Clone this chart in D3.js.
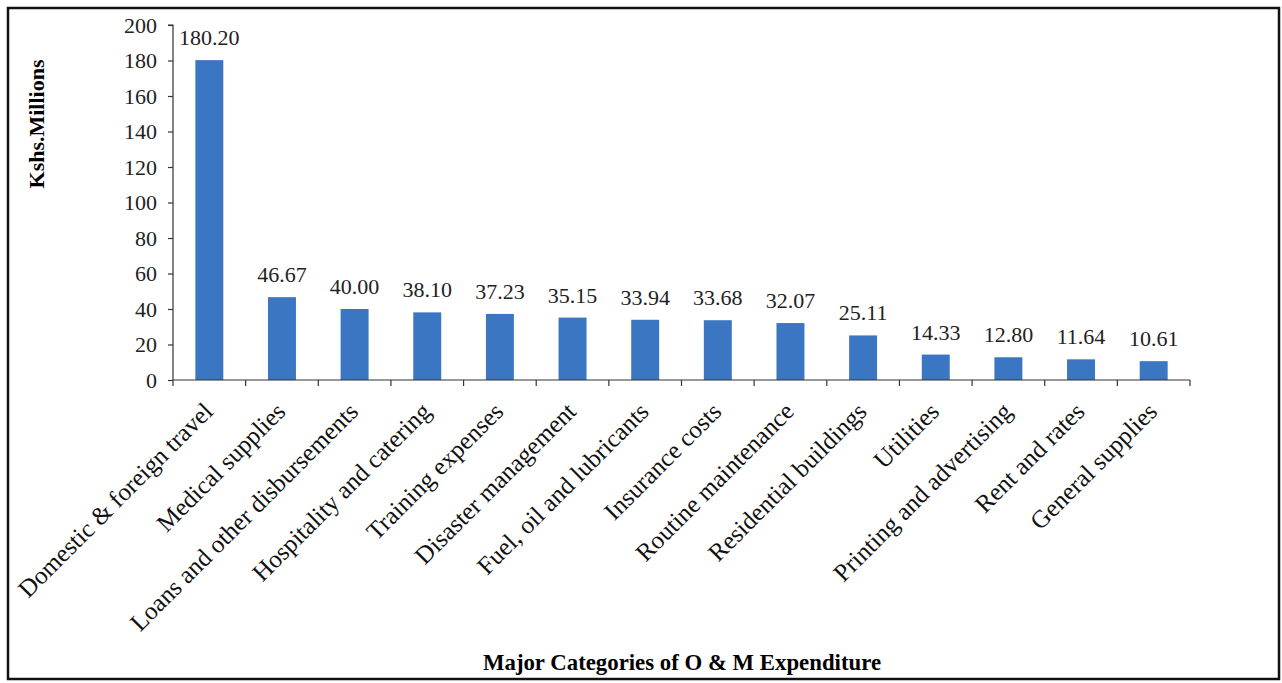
<!DOCTYPE html>
<html><head><meta charset="utf-8">
<script src="https://cdn.jsdelivr.net/npm/d3@7"></script>
<style>body{margin:0;background:#fff}</style>
</head><body><svg id="c" width="1282" height="683"></svg>
<script>
const categories = ["Domestic & foreign travel","Medical supplies","Loans and other disbursements","Hospitality and catering","Training expenses","Disaster management","Fuel, oil and lubricants","Insurance costs","Routine maintenance","Residential buildings","Utilities","Printing and advertising","Rent and rates","General supplies"];
const values = [180.20,46.67,40.00,38.10,37.23,35.15,33.94,33.68,32.07,25.11,14.33,12.80,11.64,10.61];
const yTicks = [0,20,40,60,80,100,120,140,160,180,200];
const yTitle = "Kshs.Millions";
const xTitle = "Major Categories of O & M Expenditure";

const svg = d3.select("#c");
svg.append("rect").attr("x",8).attr("y",8).attr("width",1271).attr("height",671)
  .attr("fill","none").attr("stroke","#111").attr("stroke-width",2.5);

const L=173, R=1190, T=25, B=380;
const x = d3.scaleBand().domain(categories).range([L,R]).paddingInner(0.615).paddingOuter(0.3075);
const y = d3.scaleLinear().domain([0,200]).range([B,T]);
const font = "'Liberation Serif', serif";

svg.selectAll("rect.bar").data(values).enter().append("rect")
  .attr("class","bar")
  .attr("x",(d,i)=>x(categories[i])).attr("width",x.bandwidth())
  .attr("y",d=>y(d)).attr("height",d=>B-y(d))
  .attr("fill","#3a76c2");

const ya = svg.append("g").attr("transform",`translate(${L},0)`)
  .call(d3.axisLeft(y).tickValues(yTicks).tickSize(5).tickPadding(11).tickFormat(d3.format("d")));
ya.select(".domain").attr("stroke","#333").attr("stroke-width",1.2).attr("d",`M-5,${T}H0V${B}`);
ya.selectAll(".tick line").attr("stroke","#333").attr("stroke-width",1.2);
ya.selectAll("text").attr("font-family",font).attr("font-size",22).attr("fill","#222");

// x axis with ticks at category boundaries
const step = x.step();
const boundaries = d3.range(categories.length+1).map(i=>L+i*step);
svg.append("line").attr("x1",L).attr("x2",R).attr("y1",B).attr("y2",B).attr("stroke","#333").attr("stroke-width",1.2);
svg.selectAll("line.xt").data(boundaries).enter().append("line").attr("class","xt")
  .attr("x1",d=>d).attr("x2",d=>d).attr("y1",B).attr("y2",B+6).attr("stroke","#333").attr("stroke-width",1.2);

svg.selectAll("text.cat").data(categories).enter().append("text").attr("class","cat")
  .attr("transform",d=>`translate(${x(d)+x.bandwidth()/2+5},${B+33}) rotate(-45)`)
  .attr("text-anchor","end").attr("font-family",font).attr("font-size",25).attr("fill","#111")
  .text(d=>d);

svg.selectAll("text.val").data(values).enter().append("text").attr("class","val")
  .attr("x",(d,i)=>x(categories[i])+x.bandwidth()/2).attr("y",d=>y(d)-15)
  .attr("text-anchor","middle").attr("font-family",font).attr("font-size",22).attr("fill","#222")
  .text(d=>d.toFixed(2));

svg.append("text").attr("transform","translate(44,124) rotate(-90)")
  .attr("text-anchor","middle").attr("font-family",font).attr("font-size",22).attr("font-weight","bold").text(yTitle);
svg.append("text").attr("x",682).attr("y",670).attr("text-anchor","middle")
  .attr("font-family",font).attr("font-size",22.8).attr("font-weight","bold").text(xTitle);
</script></body></html>
